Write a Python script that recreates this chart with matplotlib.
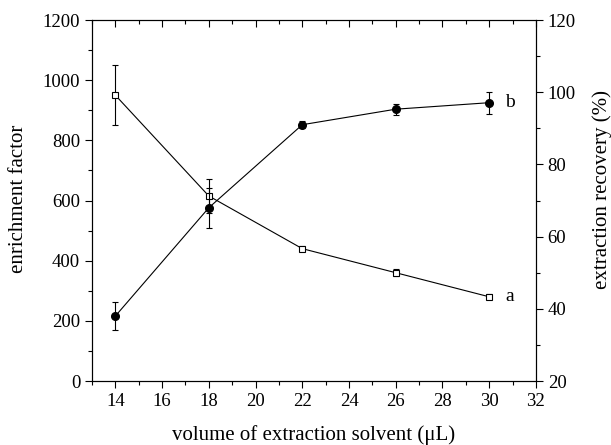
import matplotlib
matplotlib.use('Agg')
import matplotlib.pyplot as plt
from matplotlib.ticker import MultipleLocator

plt.rcParams['font.family'] = ['Liberation Serif', 'DejaVu Serif']
plt.rcParams['font.size'] = 13.5

# Data
volume = [14, 18, 22, 26, 30]
enrichment = [950, 615, 440, 360, 280]          # series a, left axis
enrichment_err = [100, 55, 8, 12, 8]
recovery = [38, 68, 91, 95.3, 97.1]              # series b, right axis
recovery_err = [3.8, 5.5, 1.0, 1.5, 3.0]

fig = plt.figure(figsize=(6.11, 4.45), dpi=100)
ax = fig.add_axes([0.1506, 0.1438, 0.7265, 0.8112])
ax2 = ax.twinx()

ax.errorbar(volume, enrichment, yerr=enrichment_err, color='black', lw=0.8,
            marker='s', ms=4.5, mfc='white', mec='black', mew=0.8,
            capsize=2.5, elinewidth=0.8, capthick=0.8, zorder=3)
ax2.errorbar(volume, recovery, yerr=recovery_err, color='black', lw=0.8,
             marker='o', ms=5.5, mfc='black', mec='black',
             capsize=2.5, elinewidth=0.8, capthick=0.8, zorder=3)

ax.set_xlim(13, 32)
ax.set_ylim(0, 1200)
ax2.set_ylim(20, 120)

ax.xaxis.set_major_locator(MultipleLocator(2))
ax.xaxis.set_minor_locator(MultipleLocator(1))
ax.yaxis.set_major_locator(MultipleLocator(200))
ax.yaxis.set_minor_locator(MultipleLocator(100))
ax2.yaxis.set_major_locator(MultipleLocator(20))
ax2.yaxis.set_minor_locator(MultipleLocator(10))

ax.tick_params(axis='x', which='both', direction='out', top=True)
for a in (ax, ax2):
    a.tick_params(which='major', length=5, width=0.8, labelsize=13.5)
    a.tick_params(which='minor', length=3, width=0.8)
    for s in a.spines.values():
        s.set_linewidth(0.8)
# top ticks point into the plot
for t in ax.xaxis.get_major_ticks() + ax.xaxis.get_minor_ticks():
    t.tick2line.set_marker(3)

ax.text(30.7, 280, 'a', va='center', ha='left', fontsize=14)
ax2.text(30.7, 97.1, 'b', va='center', ha='left', fontsize=14)

ax.set_xlabel('volume of extraction solvent (\u03bcL)', fontsize=15, va='center')
ax.xaxis.set_label_coords(0.5, -0.1496)
ax.set_ylabel('enrichment factor', fontsize=15, va='center', ha='center')
ax.yaxis.set_label_coords(-0.165, 0.505)
ax2.set_ylabel('extraction recovery (%)', fontsize=15, va='center', ha='center')
ax2.yaxis.set_label_coords(1.149, 0.53)

fig.savefig('out.png', dpi=100)
